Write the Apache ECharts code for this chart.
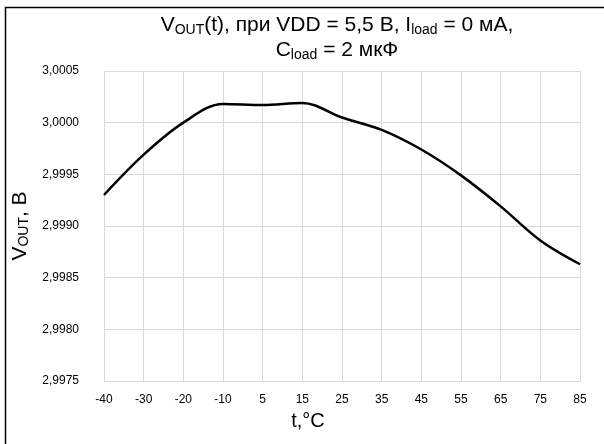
<!DOCTYPE html>
<html>
<head>
<meta charset="utf-8">
<script src="https://cdn.jsdelivr.net/npm/echarts@6/dist/echarts.min.js"></script>
<style>html,body{margin:0;padding:0;background:#fff;}#c{width:604px;height:444px;}</style>
</head>
<body>
<div id="c"></div>
<script>
const categories = ['-40','-30','-20','-10','5','15','25','35','45','55','65','75','85'];
const vout = [2.99930, 2.99969, 3.00000, 3.00018, 3.00017, 3.00019, 3.00005, 2.99993, 2.99974, 2.99949, 2.99919, 2.99886, 2.99863];
const yMin = 2.9975, yMax = 3.0005, yStep = 0.0005;
const titleText = 'V{sub|OUT}(t), при VDD = 5,5 В, I{sub|load} = 0 мА,\nC{sub|load} = 2 мкФ';

const chart = echarts.init(document.getElementById('c'));
const font = 'Liberation Sans, Arial, sans-serif';
chart.setOption({
  animation: false,
  backgroundColor: '#fff',
  graphic: [{
    type: 'rect', shape: {x: 5.5, y: 7.5, width: 700, height: 600},
    style: {fill: 'none', stroke: '#000', lineWidth: 1.5}, silent: true
  }, {
    type: 'text', x: 337, y: 13, silent: true,
    style: {
      text: titleText, align: 'center', verticalAlign: 'top',
      fontFamily: font, fontSize: 21, fill: '#000', lineHeight: 25,
      rich: { sub: {fontFamily: font, fontSize: 14, fill: '#000', padding: [0,0,-10,0]} }
    }
  }],
  grid: {left: 104, right: 24, top: 71, bottom: 63},
  xAxis: {
    type: 'category', data: categories, boundaryGap: false,
    name: 't,°C', nameLocation: 'middle', nameGap: 30,
    nameTextStyle: {fontFamily: font, fontSize: 20, color: '#000', padding: [0, 68, 0, 0]},
    axisLine: {show: true, lineStyle: {color: '#d9d9d9', width: 1}},
    axisTick: {show: false},
    axisLabel: {fontFamily: font, fontSize: 12, color: '#000', margin: 13, interval: 0},
    splitLine: {show: true, lineStyle: {color: '#d9d9d9', width: 1}}
  },
  yAxis: {
    type: 'value', min: yMin, max: yMax, interval: yStep,
    name: 'V{sub|OUT}, В', nameLocation: 'middle', nameGap: 73, nameRotate: 90,
    nameTextStyle: {fontFamily: font, fontSize: 21, color: '#000',
      rich: {sub: {fontFamily: font, fontSize: 14, color: '#000', padding: [0,0,-9,0]}}},
    axisLine: {show: false}, axisTick: {show: false},
    axisLabel: {fontFamily: font, fontSize: 12, color: '#000', margin: 25,
      formatter: v => v.toFixed(4).replace('.', ',')},
    splitLine: {show: true, lineStyle: {color: '#d9d9d9', width: 1}}
  },
  series: [{
    type: 'line', data: vout, smooth: 0.35, showSymbol: false,
    lineStyle: {color: '#000', width: 2.5}
  }]
});
</script>
</body>
</html>
